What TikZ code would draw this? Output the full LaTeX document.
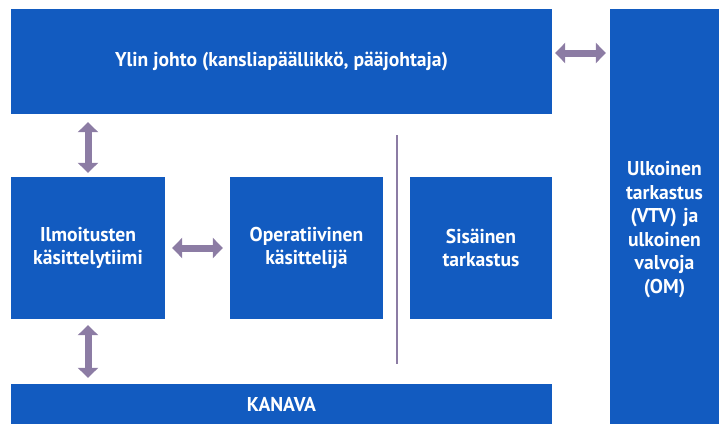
\documentclass[tikz,border=0pt]{standalone}
\usepackage{fontspec}
\setmainfont{PT Sans}[FakeStretch=0.98]
\usetikzlibrary{arrows.meta}
\definecolor{boxblue}{RGB}{18,91,192}
\definecolor{arrowgrey}{RGB}{140,124,164}
\begin{document}
\begin{tikzpicture}[x=1pt,y=-1pt,
    box/.style={fill=boxblue, text=white, inner sep=0pt, align=center,
                font=\bfseries\fontsize{20}{23.5}\selectfont},
    biarrow/.style={arrowgrey, line width=7pt,
                {Triangle[length=10pt,width=20pt]}-{Triangle[length=10pt,width=20pt]}}]
    \useasboundingbox (0,0) rectangle (719,424);
    \node[box, minimum width=541, minimum height=105] (ylin) at (281.5,61.5)
        {Ylin johto (kansliapäällikkö, pääjohtaja)};
    \node[box, minimum width=109, minimum height=415] (ulk) at (664.5,216.5) {};
    \node[box, fill=none, text width=105] (ulktext) at ([yshift=-13pt]ulk.center)
        {Ulkoinen\\ tarkastus\\ (VTV) ja\\ ulkoinen\\ valvoja\\ (OM)};
    \node[box, minimum width=154, minimum height=142] (ilmo) at (88,248)
        {Ilmoitusten\\ käsittelytiimi};
    \node[box, minimum width=153, minimum height=142] (oper) at (306.5,248)
        {Operatiivinen\\ käsittelijä};
    \node[box, minimum width=142, minimum height=142] (sis) at (481,248)
        {Sisäinen\\ tarkastus};
    \node[box, minimum width=541, minimum height=40] (kanava) at (281.5,404) {KANAVA};
    \coordinate (ylinr) at (ylin.east |- 0,53);
    \coordinate (linetop) at (397,135);
    \coordinate (linebot) at (397,364);
    \draw[biarrow, shorten <=8pt, shorten >=4pt] (ilmo.north |- ylin.south) -- (ilmo.north);
    \draw[biarrow, shorten <=6pt, shorten >=6pt] (ilmo.south) -- (ilmo.south |- kanava.north);
    \draw[biarrow, shorten <=7pt, shorten >=7pt] (ilmo.east) -- (oper.west);
    \draw[biarrow, shorten <=3pt, shorten >=4pt] (ylinr) -- (ylinr -| ulk.west);
    \draw[arrowgrey, line width=2.5pt] (linetop) -- (linebot);
\end{tikzpicture}
\end{document}
